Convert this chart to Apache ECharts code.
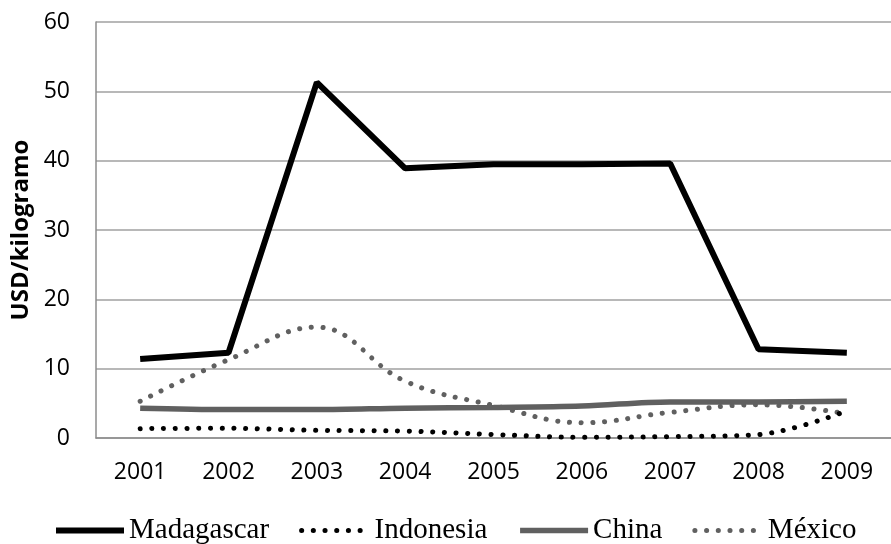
<!DOCTYPE html>
<html>
<head>
<meta charset="utf-8">
<script src="https://cdn.jsdelivr.net/npm/echarts@6/dist/echarts.min.js"></script>
<style>
  html, body { margin: 0; padding: 0; background: #fff; }
  #chart { width: 891px; height: 544px; }
</style>
</head>
<body>
<div id="chart"></div>
<script>
// Vanilla export prices by origin, USD per kilogram
const years = ['2001', '2002', '2003', '2004', '2005', '2006', '2007', '2008', '2009'];
const madagascar = [11.4, 12.3, 51.3, 38.9, 39.5, 39.5, 39.6, 12.8, 12.3];
const indonesia  = [1.35, 1.4, 1.1, 1.0, 0.5, 0.1, 0.2, 0.5, 3.9];
const china      = [4.3, 4.1, 4.1, 4.3, 4.4, 4.6, 5.2, 5.2, 5.3];
const mexico     = [5.3, 11.3, 16.0, 8.2, 4.7, 2.2, 3.7, 4.8, 3.5];
const yTicks = { min: 0, max: 60, interval: 10 };

const tickFont = { fontFamily: 'Open Sans', fontSize: 23, color: '#000' };
const solid = (color, w) => ({ color: color, width: w, type: 'solid' });
const dots = (color) => ({ color: color, width: 5, type: [0.1, 11.6], cap: 'round' });

const chart = echarts.init(document.getElementById('chart'), null, { renderer: 'canvas' });
chart.setOption({
  animation: false,
  grid: { left: 96, top: 22, right: -11, bottom: 106, containLabel: false },
  legend: {
    bottom: -6,
    left: 48,
    itemWidth: 68,
    itemHeight: 14,
    itemGap: 30,
    itemStyle: { opacity: 0 },
    textStyle: { fontFamily: 'Liberation Serif', fontSize: 29, color: '#000' },
    data: [
      { name: 'Madagascar', lineStyle: solid('#000', 6) },
      { name: 'Indonesia', lineStyle: dots('#000') },
      { name: 'China', lineStyle: solid('#606060', 5.5) },
      { name: 'México', lineStyle: dots('#606060') }
    ]
  },
  xAxis: {
    type: 'category',
    data: years,
    boundaryGap: true,
    axisLine: { lineStyle: { color: '#8c8c8c', width: 1.5 } },
    axisTick: { show: false },
    axisLabel: Object.assign({ margin: 23 }, tickFont)
  },
  yAxis: {
    type: 'value',
    min: yTicks.min,
    max: yTicks.max,
    interval: yTicks.interval,
    name: 'USD/kilogramo',
    nameLocation: 'middle',
    nameGap: 62,
    nameRotate: 90,
    nameTextStyle: { fontFamily: 'Open Sans', fontWeight: 'bold', fontSize: 24, color: '#000' },
    axisLine: { show: true, lineStyle: { color: '#8c8c8c', width: 1.5 } },
    axisTick: { show: false },
    axisLabel: Object.assign({ margin: 26 }, tickFont),
    splitLine: { lineStyle: { color: '#a0a0a0', width: 1.5 } }
  },
  series: [
    {
      name: 'Madagascar', type: 'line', data: madagascar, symbol: 'none',
      lineStyle: solid('#000', 6), itemStyle: { color: '#000' }, z: 4
    },
    {
      name: 'Indonesia', type: 'line', data: indonesia, symbol: 'none', smooth: 0.35,
      lineStyle: dots('#000'), itemStyle: { color: '#000' }, z: 3
    },
    {
      name: 'China', type: 'line', data: china, symbol: 'none', smooth: 0.35,
      lineStyle: solid('#606060', 5.5), itemStyle: { color: '#606060' }, z: 2
    },
    {
      name: 'México', type: 'line', data: mexico, symbol: 'none', smooth: 0.4,
      lineStyle: dots('#606060'), itemStyle: { color: '#606060' }, z: 1
    }
  ]
});
</script>
</body>
</html>
